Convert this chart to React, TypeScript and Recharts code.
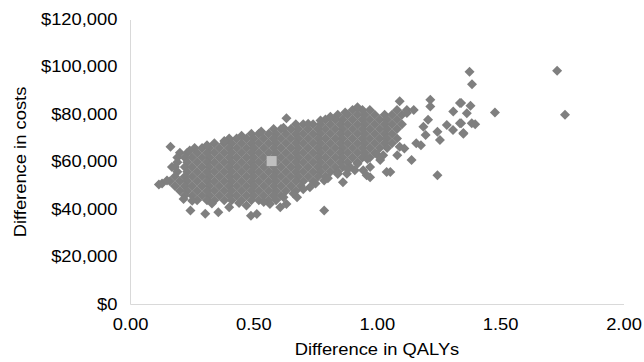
import { ScatterChart, Scatter, XAxis, YAxis } from 'recharts';

// QALY difference values of the dense cloud, one row per cost level ($ thousands)
const CLOUD_ROWS: [number, number[]][] = [
  [82, [0.90, 0.94, 0.97, 1.08, 1.12]],
  [80, [0.84, 0.88, 0.92, 0.95, 0.99, 1.03, 1.06, 1.10]],
  [78, [0.79, 0.83, 0.86, 0.90, 0.94, 0.97, 1.01, 1.04, 1.08]],
  [76, [0.67, 0.70, 0.74, 0.77, 0.81, 0.85, 0.88, 0.92, 0.95, 0.99, 1.03, 1.06, 1.10]],
  [74, [0.58, 0.61, 0.65, 0.68, 0.72, 0.76, 0.79, 0.83, 0.86, 0.90, 0.94, 0.97, 1.01, 1.04, 1.08]],
  [72, [0.49, 0.52, 0.56, 0.59, 0.63, 0.67, 0.70, 0.74, 0.77, 0.81, 0.85, 0.88, 0.92, 0.95, 0.99, 1.03, 1.06]],
  [70, [0.40, 0.43, 0.47, 0.50, 0.54, 0.58, 0.61, 0.65, 0.68, 0.72, 0.76, 0.79, 0.83, 0.86, 0.90, 0.94, 0.97, 1.01, 1.04, 1.08]],
  [68, [0.34, 0.38, 0.41, 0.45, 0.49, 0.52, 0.56, 0.59, 0.63, 0.67, 0.70, 0.74, 0.77, 0.81, 0.85, 0.88, 0.92, 0.95, 0.99, 1.03, 1.06]],
  [66, [0.26, 0.29, 0.32, 0.36, 0.40, 0.43, 0.47, 0.50, 0.54, 0.58, 0.61, 0.65, 0.68, 0.72, 0.76, 0.79, 0.83, 0.86, 0.90, 0.94, 0.97, 1.01, 1.04]],
  [64, [0.20, 0.23, 0.27, 0.31, 0.34, 0.38, 0.41, 0.45, 0.49, 0.52, 0.56, 0.59, 0.63, 0.67, 0.70, 0.74, 0.77, 0.81, 0.85, 0.88, 0.92, 0.95, 0.99]],
  [62, [0.19, 0.22, 0.25, 0.29, 0.32, 0.36, 0.40, 0.43, 0.47, 0.50, 0.54, 0.58, 0.61, 0.65, 0.68, 0.72, 0.76, 0.79, 0.83, 0.86, 0.90, 0.94, 0.97]],
  [60, [0.19, 0.23, 0.27, 0.31, 0.34, 0.38, 0.41, 0.45, 0.49, 0.52, 0.56, 0.59, 0.63, 0.67, 0.70, 0.74, 0.77, 0.81, 0.85, 0.88, 0.92]],
  [58, [0.18, 0.22, 0.25, 0.29, 0.32, 0.36, 0.40, 0.43, 0.47, 0.50, 0.54, 0.58, 0.61, 0.65, 0.68, 0.72, 0.76, 0.79, 0.83, 0.86, 0.89]],
  [56, [0.19, 0.23, 0.27, 0.31, 0.34, 0.38, 0.41, 0.45, 0.49, 0.52, 0.56, 0.59, 0.63, 0.67, 0.70, 0.74, 0.77, 0.81, 0.84]],
  [54, [0.18, 0.22, 0.25, 0.29, 0.32, 0.36, 0.40, 0.43, 0.47, 0.50, 0.54, 0.58, 0.61, 0.65, 0.68, 0.72, 0.76, 0.79]],
  [52, [0.16, 0.20, 0.23, 0.27, 0.31, 0.34, 0.38, 0.41, 0.45, 0.49, 0.52, 0.56, 0.59, 0.63, 0.67, 0.70, 0.74]],
  [50, [0.18, 0.22, 0.25, 0.29, 0.32, 0.36, 0.40, 0.43, 0.47, 0.50, 0.54, 0.58, 0.61, 0.65, 0.69]],
  [48, [0.20, 0.23, 0.27, 0.31, 0.34, 0.38, 0.41, 0.45, 0.49, 0.52, 0.56, 0.59, 0.63, 0.67]],
  [46, [0.22, 0.25, 0.29, 0.32, 0.36, 0.40, 0.43, 0.47, 0.50, 0.54, 0.58, 0.61]],
  [44, [0.27, 0.31, 0.34, 0.38, 0.41, 0.45, 0.49, 0.52, 0.56, 0.59]],
];

// scattered simulations around the edge of the cloud: [QALYs, cost $ thousands]
const EDGE_POINTS: [number, number][] = [
  [0.162, 66.5], [0.168, 58], [0.128, 51], [0.148, 52.3], [0.115, 50.6],
  [0.243, 39.6], [0.303, 38.3], [0.356, 38.9], [0.40, 41], [0.488, 37.4],
  [0.512, 38.2], [0.565, 42.4], [0.607, 41], [0.632, 42.4], [0.675, 45.2],
  [0.785, 39.6], [0.727, 49.5], [0.785, 52.3], [0.861, 51.6], [0.877, 55.2],
  [0.943, 56.6], [0.971, 53.7], [1.038, 55.9], [0.632, 78.6],
  [0.24, 65], [0.31, 67.2], [0.38, 69], [0.45, 71.2], [0.53, 73], [0.62, 74.6],
  [0.72, 76.2], [0.77, 77.6], [0.81, 79.2], [0.87, 81], [0.92, 83.2],
  [0.215, 44.5], [0.25, 43.8], [0.33, 42.6], [0.44, 42.8], [0.47, 41.8],
  [0.54, 43.2], [0.62, 45.2], [0.66, 46.8], [0.70, 48.6], [0.75, 51],
  [0.80, 53.2], [0.84, 55], [0.88, 57.2], [0.92, 59.4], [0.96, 61.4], [1.00, 63.2],
];

// the far-out simulations on the right
const RIGHT_TAIL: [number, number][] = [
  [1.091, 85.7], [1.215, 86.4], [1.215, 83.5], [1.335, 85], [1.308, 81.4],
  [1.363, 80.7], [1.282, 75.7], [1.335, 76.5], [1.307, 73.6], [1.349, 72.3],
  [1.244, 72.9], [1.254, 69.4], [1.196, 71.5], [1.177, 67.2], [1.158, 68],
  [1.139, 60.9], [1.244, 54.5], [1.053, 55.9], [1.012, 60.9], [1.024, 63],
  [0.971, 58], [0.957, 54.5], [0.909, 56.6], [1.091, 66.5], [1.081, 63],
  [1.11, 65.8], [1.12, 80.8], [1.148, 82], [1.206, 77.9], [1.187, 75],
  [1.374, 98.2], [1.384, 92.9], [1.729, 98.6], [1.761, 80], [1.477, 81],
  [1.34, 85], [1.378, 83.8], [1.34, 76.5], [1.383, 76.5], [1.397, 76], [1.349, 72],
];

// mean (base case) point
const MEAN_POINT: [number, number][] = [[0.572, 60.5]];

const X_TICKS = [0, 0.5, 1, 1.5, 2];
const Y_TICKS = [0, 20000, 40000, 60000, 80000, 100000, 120000];

const FONT = '"Liberation Sans", Arial, sans-serif';

const toPoint = ([qaly, cost]: [number, number]) => ({ qaly, cost: cost * 1000 });

const simulations = [
  ...CLOUD_ROWS.flatMap(([cost, qalys]) => qalys.map((q) => toPoint([q, cost]))),
  ...EDGE_POINTS.map(toPoint),
  ...RIGHT_TAIL.map(toPoint),
];
const mean = MEAN_POINT.map(toPoint);

const fmtCost = (v: number) => '$' + v.toLocaleString('en-US');

function Diamond(props: any) {
  const { cx, cy } = props;
  if (cx == null || cy == null) return null;
  const r = 5;
  return <path d={`M${cx},${cy - r}L${cx + r},${cy}L${cx},${cy + r}L${cx - r},${cy}Z`} fill="#7f7f7f" />;
}

function Square(props: any) {
  const { cx, cy } = props;
  if (cx == null || cy == null) return null;
  return <rect x={cx - 5} y={cy - 5} width={10} height={10} fill="#bfbfbf" />;
}

function YTick({ x, y, payload }: any) {
  return (
    <g transform={`translate(${x},${y})`}>
      <text transform="scale(1.08,1)" textAnchor="end" dy={5} fontSize={17} fontFamily={FONT} fill="#000">
        {fmtCost(payload.value)}
      </text>
    </g>
  );
}

function XTick({ x, y, payload }: any) {
  return (
    <g transform={`translate(${x},${y})`}>
      <text transform="scale(1.08,1)" textAnchor="middle" dy={26} fontSize={17} fontFamily={FONT} fill="#000">
        {Number(payload.value).toFixed(2)}
      </text>
    </g>
  );
}

const xTitle = () => (
  <g transform="translate(377,355)">
    <text transform="scale(1.08,1)" textAnchor="middle" fontSize={17} fontFamily={FONT} fill="#000">
      Difference in QALYs
    </text>
  </g>
);

const yTitle = () => (
  <g transform="translate(26,162) rotate(-90)">
    <text transform="scale(1.08,1)" textAnchor="middle" fontSize={17} fontFamily={FONT} fill="#000">
      Difference in costs
    </text>
  </g>
);

export default function App() {
  return (
    <div style={{ position: 'absolute', left: 0, top: 0, background: '#fff' }}>
      <ScatterChart width={644} height={362} margin={{ top: 20, right: 20, bottom: 0, left: 0.5 }}>
        <XAxis
          type="number"
          dataKey="qaly"
          domain={[0, 2]}
          ticks={X_TICKS}
          axisLine={{ stroke: '#d9d9d9' }}
          tickLine={false}
          tickSize={0}
          tickMargin={0}
          tick={XTick}
          height={57.5}
          label={xTitle}
        />
        <YAxis
          type="number"
          dataKey="cost"
          domain={[0, 120000]}
          ticks={Y_TICKS}
          axisLine={{ stroke: '#d9d9d9' }}
          tickLine={false}
          tickSize={0}
          tickMargin={13}
          tick={YTick}
          width={130}
          label={yTitle}
        />
        <Scatter data={simulations} shape={Diamond} isAnimationActive={false} />
        <Scatter data={mean} shape={Square} isAnimationActive={false} />
      </ScatterChart>
    </div>
  );
}
